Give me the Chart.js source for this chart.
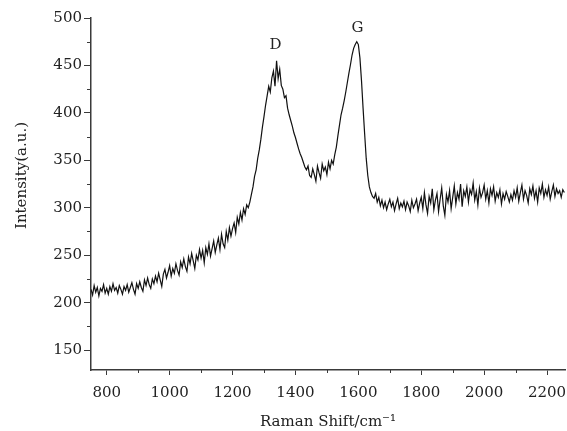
<!DOCTYPE html>
<html>
<head>
<meta charset="utf-8">
<script src="https://cdn.jsdelivr.net/npm/chart.js@4.4.1/dist/chart.umd.min.js"></script>
<style>
  html, body { margin: 0; padding: 0; background: #fff; }
  #wrap { width: 567px; height: 431px; position: relative; }
</style>
</head>
<body>
<div id="wrap"><canvas id="raman"></canvas></div>
<script>
// Raman shift (cm-1), sampled every 5 cm-1
const ramanShift = [
  750, 755, 760, 765, 770, 775, 780, 785, 790, 795,
  800, 805, 810, 815, 820, 825, 830, 835, 840, 845,
  850, 855, 860, 865, 870, 875, 880, 885, 890, 895,
  900, 905, 910, 915, 920, 925, 930, 935, 940, 945,
  950, 955, 960, 965, 970, 975, 980, 985, 990, 995,
  1000, 1005, 1010, 1015, 1020, 1025, 1030, 1035, 1040, 1045,
  1050, 1055, 1060, 1065, 1070, 1075, 1080, 1085, 1090, 1095,
  1100, 1105, 1110, 1115, 1120, 1125, 1130, 1135, 1140, 1145,
  1150, 1155, 1160, 1165, 1170, 1175, 1180, 1185, 1190, 1195,
  1200, 1205, 1210, 1215, 1220, 1225, 1230, 1235, 1240, 1245,
  1250, 1255, 1260, 1265, 1270, 1275, 1280, 1285, 1290, 1295,
  1300, 1305, 1310, 1315, 1320, 1325, 1330, 1335, 1340, 1345,
  1350, 1355, 1360, 1365, 1370, 1375, 1380, 1385, 1390, 1395,
  1400, 1405, 1410, 1415, 1420, 1425, 1430, 1435, 1440, 1445,
  1450, 1455, 1460, 1465, 1470, 1475, 1480, 1485, 1490, 1495,
  1500, 1505, 1510, 1515, 1520, 1525, 1530, 1535, 1540, 1545,
  1550, 1555, 1560, 1565, 1570, 1575, 1580, 1585, 1590, 1595,
  1600, 1605, 1610, 1615, 1620, 1625, 1630, 1635, 1640, 1645,
  1650, 1655, 1660, 1665, 1670, 1675, 1680, 1685, 1690, 1695,
  1700, 1705, 1710, 1715, 1720, 1725, 1730, 1735, 1740, 1745,
  1750, 1755, 1760, 1765, 1770, 1775, 1780, 1785, 1790, 1795,
  1800, 1805, 1810, 1815, 1820, 1825, 1830, 1835, 1840, 1845,
  1850, 1855, 1860, 1865, 1870, 1875, 1880, 1885, 1890, 1895,
  1900, 1905, 1910, 1915, 1920, 1925, 1930, 1935, 1940, 1945,
  1950, 1955, 1960, 1965, 1970, 1975, 1980, 1985, 1990, 1995,
  2000, 2005, 2010, 2015, 2020, 2025, 2030, 2035, 2040, 2045,
  2050, 2055, 2060, 2065, 2070, 2075, 2080, 2085, 2090, 2095,
  2100, 2105, 2110, 2115, 2120, 2125, 2130, 2135, 2140, 2145,
  2150, 2155, 2160, 2165, 2170, 2175, 2180, 2185, 2190, 2195,
  2200, 2205, 2210, 2215, 2220, 2225, 2230, 2235, 2240, 2245,
  2250, 2255,
];

// intensity (a.u.)
const intensity = [
  214, 208, 218, 211, 216, 207, 215, 212, 219, 210,
  215, 209, 217, 212, 220, 213, 216, 210, 218, 214,
  209, 217, 213, 219, 211, 216, 221, 214, 209, 220,
  215, 222, 216, 212, 224, 218, 226, 219, 215, 225,
  220, 228, 222, 231, 224, 217, 230, 235, 226, 232,
  239, 228, 236, 231, 241, 234, 229, 243, 237, 246,
  238, 233, 248, 241, 252, 244, 236, 250, 245, 256,
  247, 255, 242, 258, 251, 262, 249, 257, 265, 253,
  261, 268, 256, 272, 262, 258, 275, 266, 279, 270,
  278, 284, 274, 290, 283, 295, 287, 299, 293, 303,
  300, 306, 314, 322, 333, 340, 352, 361, 372, 385,
  396, 408, 418, 428, 422, 437, 444, 428, 455, 436,
  446, 429, 425, 416, 418, 405, 398, 392, 386, 379,
  374, 368, 362, 357, 353, 348, 343, 340, 344, 334,
  332, 341, 335, 328, 344, 337, 331, 346, 339, 343,
  335, 348, 341, 350, 346, 356, 364, 376, 387, 398,
  405, 413, 422, 432, 442, 451, 461, 468, 472, 475,
  472, 458, 434, 405, 378, 352, 334, 322, 316, 312,
  310, 315, 306, 311, 302, 308, 300, 306, 298, 304,
  309, 301, 306, 297, 304, 310, 299, 305, 301, 307,
  298, 306, 302, 296, 308, 300, 304, 309, 297, 305,
  311, 299, 316, 303, 294, 312, 305, 320, 298, 308,
  315, 296, 309, 321, 302, 292, 314, 306, 318, 299,
  311, 323, 304, 316, 309, 325, 301, 318, 312, 322,
  306, 319, 314, 326, 308, 317, 303, 321, 311, 316,
  324, 309, 318, 305, 320, 313, 322, 307, 316, 311,
  319, 304, 315, 309, 317, 312, 306, 314, 308, 318,
  311, 321, 307, 316, 324, 309, 318, 313, 305, 320,
  314, 323, 310, 318, 306, 321, 315, 325, 311, 319,
  313, 322, 309, 317, 324, 312, 320, 315, 318, 311,
  319, 316,
];

const xTicks = [800, 1000, 1200, 1400, 1600, 1800, 2000, 2200];
const xMinorTicks = [900, 1100, 1300, 1500, 1700, 1900, 2100];
const yTicks = [150, 200, 250, 300, 350, 400, 450, 500];
const yMinorTicks = [175, 225, 275, 325, 375, 425, 475];

const peakNames = ["D", "G"];
const peakShift = [1337, 1597];
const peakLabelLevel = [471, 489];

const AXIS_COLOR = "#3a3a3a";
const TEXT_COLOR = "#222";
const FONT = "'DejaVu Serif', 'Liberation Serif', serif";

// Chart.js has no minor ticks, so draw them off the scales
const minorTicks = {
  id: "minorTicks",
  afterDraw(chart) {
    const { ctx, scales } = chart;
    const area = chart.chartArea;
    ctx.save();
    ctx.strokeStyle = AXIS_COLOR;
    ctx.lineWidth = 1;
    ctx.beginPath();
    xMinorTicks.forEach((v) => {
      const px = Math.round(scales.x.getPixelForValue(v)) + 0.5;
      ctx.moveTo(px, area.bottom);
      ctx.lineTo(px, area.bottom + 3);
    });
    yMinorTicks.forEach((v) => {
      const py = Math.round(scales.y.getPixelForValue(v)) + 0.5;
      ctx.moveTo(area.left, py);
      ctx.lineTo(area.left - 4, py);
    });
    ctx.stroke();
    ctx.restore();
  },
};

// peak names and the y title (the title sits above the plot's centre line)
const extraText = {
  id: "extraText",
  afterDatasetsDraw(chart) {
    const { ctx, scales } = chart;
    ctx.save();
    ctx.fillStyle = TEXT_COLOR;
    ctx.font = "15px " + FONT;
    ctx.textAlign = "center";
    ctx.textBaseline = "middle";
    peakNames.forEach((name, i) => {
      ctx.fillText(name, scales.x.getPixelForValue(peakShift[i]), scales.y.getPixelForValue(peakLabelLevel[i]));
    });
    ctx.translate(22, scales.y.getPixelForValue(334));
    ctx.rotate(-Math.PI / 2);
    ctx.fillText("Intensity(a.u.)", 0, 0);
    ctx.restore();
  },
};

const points = ramanShift.map((x, i) => ({ x: x, y: intensity[i] }));

new Chart(document.getElementById("raman"), {
  type: "line",
  data: {
    datasets: [{
      data: points,
      borderColor: "#111",
      borderWidth: 1.2,
      pointRadius: 0,
      tension: 0,
      fill: false,
    }],
  },
  options: {
    responsive: true,
    maintainAspectRatio: false,
    animation: false,
    events: [],
    layout: { padding: { top: 18, right: 2, left: 0, bottom: 0 } },
    plugins: { legend: { display: false }, tooltip: { enabled: false } },
    scales: {
      x: {
        type: "linear",
        min: 750,
        max: 2257,
        afterBuildTicks: (scale) => { scale.ticks = xTicks.map((v) => ({ value: v })); },
        afterFit: (scale) => {
          scale.height = 61;
          scale.paddingLeft = 0;
          scale.paddingRight = 0;
        },
        border: { display: true, color: AXIS_COLOR, width: 1.5 },
        grid: { drawOnChartArea: false, drawTicks: true, tickLength: 5, color: AXIS_COLOR },
        ticks: {
          color: TEXT_COLOR,
          font: { family: FONT, size: 15 },
          padding: 9,
          maxRotation: 0,
          autoSkip: false,
          callback: (v) => String(v),
        },
        title: {
          display: true,
          text: "Raman Shift/cm\u207B\u00B9",
          color: TEXT_COLOR,
          font: { family: FONT, size: 15 },
          padding: { top: 0, bottom: 0 },
        },
      },
      y: {
        type: "linear",
        min: 129,
        max: 500,
        afterBuildTicks: (scale) => { scale.ticks = yTicks.map((v) => ({ value: v })); },
        afterFit: (scale) => { scale.width = 91; },
        border: { display: true, color: AXIS_COLOR, width: 1.5 },
        grid: { drawOnChartArea: false, drawTicks: true, tickLength: 7, color: AXIS_COLOR },
        ticks: { color: TEXT_COLOR, font: { family: FONT, size: 15 }, padding: 2, callback: (v) => String(v) },
      },
    },
  },
  plugins: [minorTicks, extraText],
});
</script>
</body>
</html>
